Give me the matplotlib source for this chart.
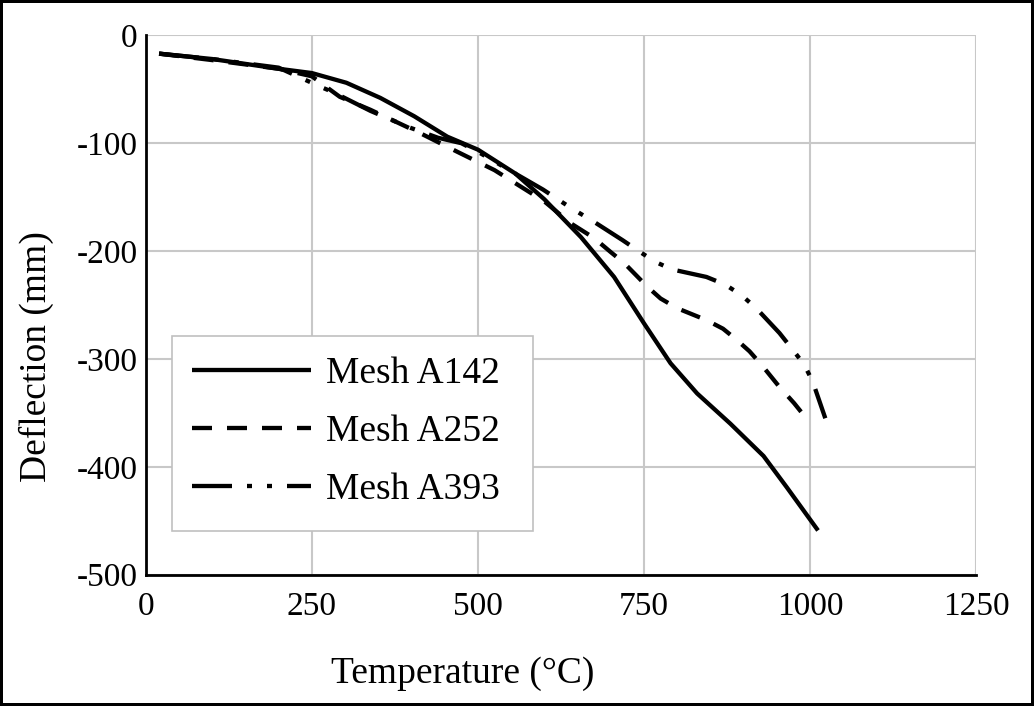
import matplotlib.pyplot as plt
from matplotlib.patches import Rectangle

# values
temp_a142 = [20, 100, 200, 250, 302, 353, 404, 454, 500, 556, 600, 655, 705, 750, 790, 830, 880, 930, 965, 1012]
defl_a142 = [-17, -22, -31, -35, -44, -58, -75, -94, -106, -128, -152, -187, -224, -267, -304, -332, -360, -390, -419, -459]

temp_a252 = [20, 100, 200, 250, 292, 338, 414, 469, 525, 600, 639, 675, 700, 720, 755, 775, 800, 820, 844,
             869, 889, 909, 929, 954, 976, 993]
defl_a252 = [-17, -23, -31, -38, -57, -69, -91, -108, -125, -154, -174, -188, -201, -211, -233, -244, -253, -258, -264,
             -272, -282, -293, -307, -326, -341, -354]

temp_a393 = [20, 100, 200, 239, 264, 283, 338, 395, 440, 475, 500, 553, 598, 640, 675, 718, 742, 767, 792, 844,
             872, 897, 919, 954, 972, 991, 1004, 1023]
defl_a393 = [-17, -22, -30, -41, -48, -53, -70, -85, -95, -100, -108, -127, -143, -160, -173, -190, -200, -210, -217, -224,
             -231, -241, -253, -276, -290, -305, -321, -355]

labels = ["Mesh A142", "Mesh A252", "Mesh A393"]
x_ticks = [0, 250, 500, 750, 1000, 1250]
y_ticks = [0, -100, -200, -300, -400, -500]

plt.rcParams["font.family"] = ["Liberation Serif", "DejaVu Serif"]
plt.rcParams["axes.unicode_minus"] = False
plt.rcParams["lines.scale_dashes"] = False

fig = plt.figure(figsize=(10.34, 7.06), dpi=100)
fig.patch.set_edgecolor("black")
fig.patch.set_linewidth(3)
ax = fig.add_axes([0.141, 0.186, 0.803, 0.764])

lw = 3.1
ax.plot(temp_a142, defl_a142, color="black", lw=lw, label=labels[0],
        solid_capstyle="butt", solid_joinstyle="round")
ax.plot(temp_a252, defl_a252, color="black", lw=lw, label=labels[1],
        dashes=(14.4, 10.8), dash_capstyle="butt", dash_joinstyle="round")
ax.plot(temp_a393, defl_a393, color="black", lw=lw, label=labels[2],
        dashes=(28.8, 10.8, 3.6, 10.8, 3.6, 10.8), dash_capstyle="butt", dash_joinstyle="round")

ax.set_xlim(0, 1250)
ax.set_ylim(-500, 0)
ax.set_xticks(x_ticks)
ax.set_yticks(y_ticks)
ax.tick_params(length=0, labelsize=24)
ax.tick_params(axis="x", pad=12)
ax.tick_params(axis="y", pad=6)
ax.grid(True, color="#c8c8c8", lw=1.5)
ax.set_axisbelow(True)
for side in ["top", "right"]:
    ax.spines[side].set_visible(False)
for side in ["left", "bottom"]:
    ax.spines[side].set_linewidth(2)
    ax.spines[side].set_zorder(5)

ax.set_xlabel("Temperature (°C)", fontsize=27)
ax.set_ylabel("Deflection (mm)", fontsize=27)
ax.xaxis.set_label_coords(0.382, -0.152)
ax.yaxis.set_label_coords(-0.111, 0.405)

# legend box drawn separately to match the loose bottom padding
ax.add_patch(Rectangle((0.031, 0.081), 0.435, 0.361, transform=ax.transAxes,
                       facecolor="white", edgecolor="#c0c0c0", lw=1.2, zorder=6))
leg = ax.legend(loc="upper left", bbox_to_anchor=(0.031, 0.442), frameon=False,
                fontsize=27, handlelength=3.17, handletextpad=0.4, labelspacing=0.62,
                borderpad=0.55, borderaxespad=0)
leg.set_zorder(7)

fig.savefig("out.png", dpi=100, edgecolor=fig.get_edgecolor())
